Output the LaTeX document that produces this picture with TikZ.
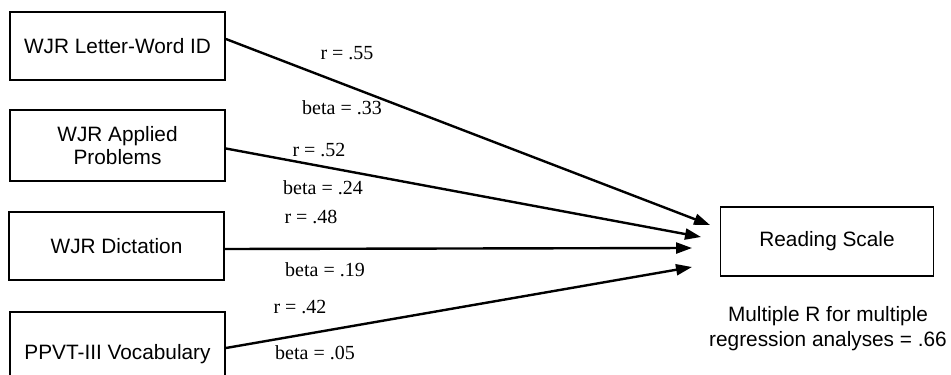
\documentclass[tikz,border=0pt]{standalone}
\usepackage{fontspec}
\setmainfont{Liberation Sans}
\newfontfamily\coeffont{Liberation Serif}
\usetikzlibrary{arrows.meta}
\tikzset{
  measure/.style={draw,line width=0.9pt,minimum width=107.5pt,minimum height=34pt,
    align=center,font=\fontsize{10.4}{11.5}\selectfont},
  coef/.style={inner sep=0pt,font=\coeffont\fontsize{10}{12}\selectfont},
  link/.style={line width=1.2pt,-{Triangle[length=8pt,width=5.5pt]}}
}
\begin{document}
\begin{tikzpicture}[x=0.5pt,y=-0.5pt]
  \useasboundingbox (0,0) rectangle (951,374);
  % predictors
  \node[measure] (lw) at (117.5,46) {WJR Letter-Word ID};
  \node[measure,minimum height=35.5pt] (ap) at (117.5,145.5) {WJR Applied\\Problems};
  \node[measure] (dict) at (116.5,246) {WJR Dictation};
  \node[measure,minimum height=42pt] (ppvt) at (117.5,354) {PPVT-III Vocabulary};
  % outcome
  \node[measure,minimum width=106.5pt,minimum height=34.5pt] (read) at (827,241.5) {Reading Scale};
  \node[align=center,font=\fontsize{10.4}{12.5}\selectfont] (multr) at (828,329)
    {Multiple R for multiple\\regression analyses = .66};
  % arrow tips
  \coordinate (t1) at (710,225);
  \coordinate (t2) at (701,237);
  \coordinate (t3) at (692,248);
  \coordinate (t4) at (692,267);
  \draw[link] ([yshift=3.5pt]lw.east) -- (t1);
  \draw[link] ([yshift=-1.5pt]ap.east) -- (t2);
  \draw[link] ([yshift=-1.5pt]dict.east) -- (t3);
  \draw[link] ([yshift=3pt]ppvt.east) -- (t4);
  % coefficients
  \node[coef] (r1) at (347,53) {r = .55};
  \node[coef] (b1) at (342,108) {beta = .33};
  \node[coef] (r2) at (319,150) {r = .52};
  \node[coef] (b2) at (323,188) {beta = .24};
  \node[coef] (r3) at (311,217) {r = .48};
  \node[coef] (b3) at (325,270) {beta = .19};
  \node[coef] (r4) at (300,307) {r = .42};
  \node[coef] (b4) at (315,353) {beta = .05};
\end{tikzpicture}
\end{document}
